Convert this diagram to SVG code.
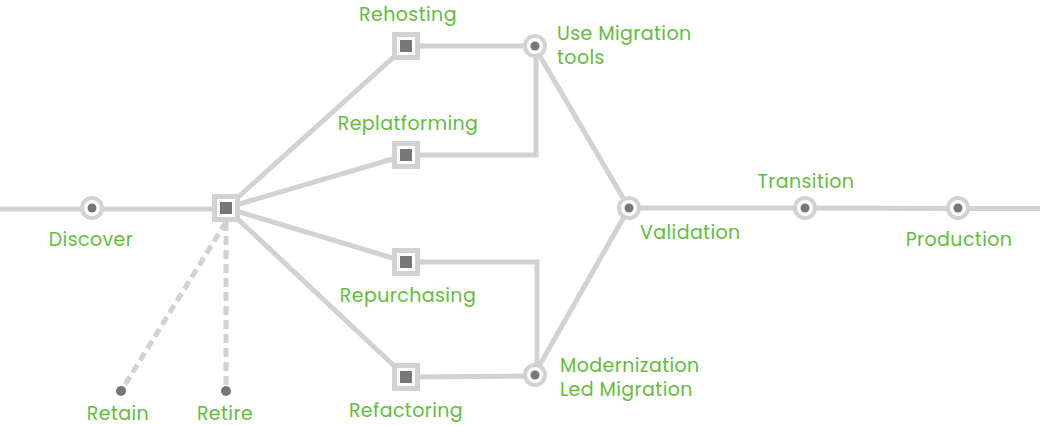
<svg xmlns="http://www.w3.org/2000/svg" width="1040" height="426" viewBox="0 0 1040 426">
<style>
.ln{fill:none;stroke:#d2d2d2;stroke-width:5;stroke-linejoin:miter}
.dash{fill:none;stroke:#d2d2d2;stroke-width:5;stroke-dasharray:9 5}
.sq{fill:#fff;stroke:#d2d2d2;stroke-width:5}
.sqi{fill:#777}
.ci{fill:#fff;stroke:#d2d2d2;stroke-width:4}
.dot{fill:#777}
.t{font-family:Poppins,"Open Sans","Noto Sans",sans-serif;font-size:19px;letter-spacing:0.4px;fill:#62bd3a}
</style>
<rect width="1040" height="426" fill="#fff"/>
<g id="connectors">
<line class="ln" x1="0" y1="209" x2="226" y2="209"/>
<line class="ln" x1="226" y1="208" x2="406" y2="46"/>
<line class="ln" x1="226" y1="208" x2="406" y2="155"/>
<line class="ln" x1="226" y1="208" x2="406" y2="262"/>
<line class="ln" x1="226" y1="208" x2="406" y2="377"/>
<line class="ln" x1="406" y1="46" x2="534" y2="46"/>
<polyline class="ln" points="406,155 536,155 536,46"/>
<polyline class="ln" points="406,262 537,262 537,375"/>
<line class="ln" x1="406" y1="377" x2="534" y2="376"/>
<line class="ln" x1="534" y1="46" x2="629" y2="208"/>
<line class="ln" x1="534" y1="375" x2="629" y2="208"/>
<line class="ln" x1="629" y1="208" x2="805" y2="208"/>
<line class="ln" x1="805" y1="208" x2="958" y2="208.5"/>
<line class="ln" x1="958" y1="208.5" x2="1040" y2="208.5"/>
<line class="dash" x1="226" y1="222" x2="121" y2="391"/>
<line class="dash" x1="226" y1="222" x2="226" y2="391"/>
</g>
<g id="discover"><circle class="ci" cx="92" cy="208" r="10"/><circle class="dot" cx="92" cy="208" r="4.5"/><text class="t" x="91" y="246" text-anchor="middle">Discover</text></g>
<g id="hub"><rect class="sq" x="214.5" y="196.5" width="23" height="23"/><rect class="sqi" x="220" y="202" width="12" height="12"/></g>
<g id="rehosting"><rect class="sq" x="394.5" y="34.5" width="23" height="23"/><rect class="sqi" x="400" y="40" width="12" height="12"/><text class="t" x="408" y="21" text-anchor="middle">Rehosting</text></g>
<g id="replatforming"><rect class="sq" x="394.5" y="143.5" width="23" height="23"/><rect class="sqi" x="400" y="149" width="12" height="12"/><text class="t" x="408" y="130" text-anchor="middle">Replatforming</text></g>
<g id="repurchasing"><rect class="sq" x="394.5" y="250.5" width="23" height="23"/><rect class="sqi" x="400" y="256" width="12" height="12"/><text class="t" x="408" y="302" text-anchor="middle">Repurchasing</text></g>
<g id="refactoring"><rect class="sq" x="394.5" y="365.5" width="23" height="23"/><rect class="sqi" x="400" y="371" width="12" height="12"/><text class="t" x="406" y="417" text-anchor="middle">Refactoring</text></g>
<g id="use-migration-tools"><circle class="ci" cx="535" cy="46" r="10"/><circle class="dot" cx="535" cy="46" r="4.5"/><text class="t" x="557" y="40">Use Migration<tspan x="557" dy="24">tools</tspan></text></g>
<g id="modernization"><circle class="ci" cx="535" cy="375" r="10"/><circle class="dot" cx="535" cy="375" r="4.5"/><text class="t" x="560" y="372">Modernization<tspan x="560" dy="24">Led Migration</tspan></text></g>
<g id="validation"><circle class="ci" cx="629" cy="208" r="10"/><circle class="dot" cx="629" cy="208" r="4.5"/><text class="t" x="640" y="239">Validation</text></g>
<g id="transition"><circle class="ci" cx="805" cy="208" r="10"/><circle class="dot" cx="805" cy="208" r="4.5"/><text class="t" x="806" y="188" text-anchor="middle">Transition</text></g>
<g id="production"><circle class="ci" cx="958" cy="208" r="10"/><circle class="dot" cx="958" cy="208" r="4.5"/><text class="t" x="959" y="246" text-anchor="middle">Production</text></g>
<g id="retain"><circle class="dot" cx="121" cy="391" r="5"/><text class="t" x="118" y="420" text-anchor="middle">Retain</text></g>
<g id="retire"><circle class="dot" cx="226" cy="391" r="5"/><text class="t" x="225" y="420" text-anchor="middle">Retire</text></g>
</svg>
